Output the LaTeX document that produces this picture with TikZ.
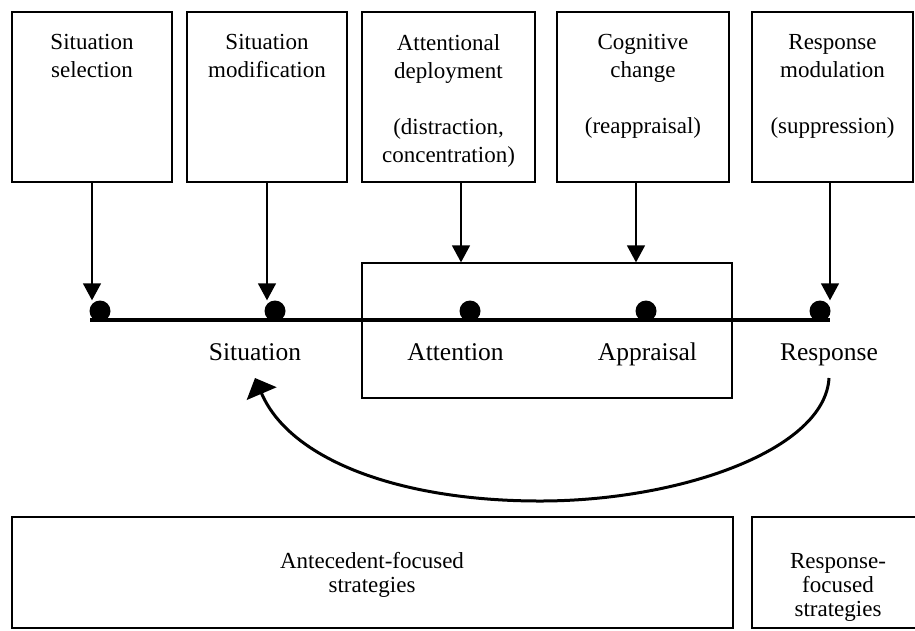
\documentclass[tikz,border=0pt]{standalone}
\usepackage{fontspec}
\setmainfont{Liberation Serif}
\usetikzlibrary{arrows.meta}
\begin{document}
\begin{tikzpicture}[x=1pt,y=-1pt,
  box/.style={draw, line width=1.6pt, inner sep=0pt},
  framebox/.style={draw, line width=1.3pt, inner sep=0pt},
  toptext/.style={inner sep=0pt, anchor=north, align=center, font=\fontsize{23}{28}\selectfont},
  bottext/.style={inner sep=0pt, anchor=north, align=center, font=\fontsize{23}{24}\selectfont},
  lbl/.style={inner sep=0pt, anchor=base, font=\fontsize{25.5}{30}\selectfont},
  dot/.style={circle, fill=black, inner sep=0pt, minimum size=21pt},
  arr/.style={line width=1.5pt, -{Triangle[length=17pt,width=18pt]}},
  bigarr/.style={line width=3pt, -{Triangle[length=17pt,width=32pt]}}
]
\useasboundingbox (0,0) rectangle (915,630);
\clip (0,0) rectangle (915,630);

% top boxes
\node[box, minimum width=160pt, minimum height=170pt] (b1) at (92,97) {};
\node[box, minimum width=160pt, minimum height=170pt] (b2) at (267,97) {};
\node[box, minimum width=173pt, minimum height=170pt] (b3) at (448.5,97) {};
\node[box, minimum width=172pt, minimum height=170pt] (b4) at (643,97) {};
\node[box, minimum width=161pt, minimum height=170pt] (b5) at (832.5,97) {};

\node[toptext] (t1) at (92,34.3) {Situation\\selection};
\node[toptext] (t2) at (267,34.3) {Situation\\modification};
\node[toptext] (t3) at (448.5,34.3) {Attentional\\deployment\\[28pt](distraction,\\concentration)};
\node[toptext] (t4) at (643,34.3) {Cognitive\\change\\[28pt](reappraisal)};
\node[toptext] (t5) at (832.5,34.3) {Response\\modulation\\[28pt](suppression)};

% middle frame
\node[framebox, minimum width=370pt, minimum height=135pt] (frame) at (547,330.5) {};

% timeline
\coordinate (tl0) at (90,320);
\coordinate (tl1) at (830,320);
\draw[line width=3.5pt] (tl0) -- (tl1);

\node[dot] (d1) at (100,311) {};
\node[dot] (d2) at (275,311) {};
\node[dot] (d3) at (470,311) {};
\node[dot] (d4) at (646,311) {};
\node[dot] (d5) at (820,311) {};

% labels
\node[lbl] (ls) at (255,360) {Situation};
\node[lbl] (la) at (455.5,360) {Attention};
\node[lbl] (lp) at (647.5,360) {Appraisal};
\node[lbl] (lr) at (829,360) {Response};

% down arrows
\draw[arr] (b1.south) -- (b1.south |- d1.north);
\draw[arr] (b2.south) -- (b2.south |- d2.north);
\coordinate (a3) at (461,182);
\coordinate (a4) at (636,182);
\coordinate (a5) at (830,182);
\draw[arr] (a3) -- (a3 |- frame.north);
\draw[arr] (a4) -- (a4 |- frame.north);
\draw[arr] (a5) -- (a5 |- d5.north);

% feedback arc
\draw[bigarr] ([yshift=-18pt]lr.base) .. controls (825,450) and (680,501) .. (540,501)
  .. controls (400,501) and (290,460) .. ([yshift=-18pt]ls.base);

% bottom boxes
\node[box, minimum width=721.3pt, minimum height=111pt] (ant) at (372.35,572.5) {};
\node[box, minimum width=173pt, minimum height=111pt] (resp) at (838.5,572.5) {};
\node[bottext] (antt) at (372,552) {Antecedent-focused\\strategies};
\node[bottext] (respt) at (838,553) {Response-\\focused\\strategies};
\end{tikzpicture}
\end{document}
